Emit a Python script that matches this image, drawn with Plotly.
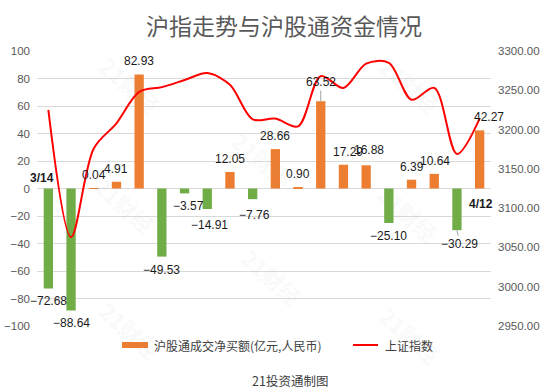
import plotly.graph_objects as go

# ---------------- data ----------------
dates = ["3/14", "3/15", "3/16", "3/17", "3/20", "3/21", "3/22", "3/23", "3/24", "3/27",
         "3/28", "3/29", "3/30", "3/31", "4/5", "4/6", "4/7", "4/10", "4/11", "4/12"]
net_buy = [-72.68, -88.64, 0.04, 4.91, 82.93, -49.53, -3.57, -14.91, 12.05, -7.76,
           28.66, 0.90, 63.52, 17.29, 16.88, -25.10, 6.39, 10.64, -30.29, 42.27]
sse_index = [3225, 3063, 3176, 3208, 3248, 3254, 3263, 3272, 3257, 3213,
             3214, 3204, 3268, 3253, 3284, 3285, 3238, 3253, 3169, 3214]
left_ticks = list(range(-100, 101, 20))
right_ticks = list(range(2950, 3301, 50))

title_text = "沪指走势与沪股通资金情况"
bar_name = "沪股通成交净买额(亿元,人民币)"
line_name = "上证指数"
footer_text = "21投资通制图"

# ---------------- style ----------------
ORANGE = "#ED7D31"
GREEN = "#70AD47"
RED = "#FF0000"
GRID = "#D9D9D9"
TICK = "#595959"
FONT = "Liberation Sans, Arial, Noto Sans CJK SC"
CJK = "Noto Sans CJK SC, Liberation Sans"

W, H = 548, 390
ML, MR, MT, MB = 37, 57, 51, 64
PW, PH = W - ML - MR, H - MT - MB


def px(x):
    return (x - ML) / PW


def py(y):
    return (H - MB - y) / PH


def paper_text(x, y, text, size, color, family, xanchor="center", **kw):
    return dict(x=px(x), y=py(y), xref="paper", yref="paper", text=text, showarrow=False,
                xanchor=xanchor, yanchor="middle", font=dict(size=size, color=color, family=family), **kw)


# per-label tweaks (xshift, yshift) in pixels
label_tweak = {6: (4, 0), 7: (2, 3), 9: (2, 3), 13: (5, 0), 14: (3, 2), 17: (1, 0), 19: (9, 0)}

fig = go.Figure()
fig.add_trace(go.Bar(
    x=dates, y=net_buy, name=bar_name,
    marker=dict(color=[ORANGE if v >= 0 else GREEN for v in net_buy], line=dict(width=0)),
    showlegend=False, hoverinfo="skip",
))
fig.add_trace(go.Scatter(
    x=dates, y=sse_index, name=line_name, yaxis="y2", mode="lines",
    line=dict(color=RED, width=2, shape="spline", smoothing=0.9),
    showlegend=False, hoverinfo="skip",
))

LBL = dict(size=12, color="#1a1a1a", family=FONT)
annotations = []
for i, (d, v) in enumerate(zip(dates, net_buy)):
    txt = ("−" + f"{abs(v):.2f}") if v < 0 else f"{v:.2f}"
    dx, dy = label_tweak.get(i, (0, 0))
    if i == 12:
        annotations.append(dict(x=d, y=v, text=txt, showarrow=True, ax=0, ay=-19,
                                arrowhead=0, arrowwidth=0.8, arrowcolor="#8c8c8c", font=LBL))
        continue
    if i == 18:
        annotations.append(dict(x=d, y=v, text=txt, showarrow=True, ax=3, ay=14,
                                arrowhead=0, arrowwidth=0.8, arrowcolor="#8c8c8c", font=LBL))
        continue
    annotations.append(dict(x=d, y=v, text=txt, showarrow=False, xanchor="center", yanchor="middle",
                            xshift=dx, yshift=(13 if v >= 0 else -13) + (dy if v >= 0 else -dy),
                            font=LBL))

# first/last date labels
annotations.append(paper_text(42, 178, "<b>" + dates[0] + "</b>", 12, "#1a1a1a", FONT))
annotations.append(paper_text(481, 204, "<b>" + dates[-1] + "</b>", 12, "#1a1a1a", FONT))

# watermarks
for wx, wy in [(130, 85), (410, 85), (125, 205), (408, 213), (262, 160), (272, 277), (130, 330), (410, 335)]:
    annotations.append(paper_text(wx, wy, "<b>21财经</b>", 22, "rgba(160,160,160,0.08)", CJK, textangle=42))

# title
annotations.append(paper_text(284, 25, title_text, 23, "#595959", CJK))
# legend (custom)
annotations.append(paper_text(152, 345, bar_name, 12, "#404040", CJK, xanchor="left"))
annotations.append(paper_text(383, 345, line_name, 12, "#404040", CJK, xanchor="left"))
# footer
annotations.append(paper_text(290, 380, footer_text, 12.5, "#404040", CJK))

shapes = [
    dict(type="rect", xref="paper", yref="paper", x0=px(122), x1=px(148), y0=py(348), y1=py(342),
         fillcolor=ORANGE, line=dict(width=0)),
    dict(type="line", xref="paper", yref="paper", x0=px(353), x1=px(378), y0=py(345), y1=py(345),
         line=dict(color=RED, width=2)),
]

fig.update_layout(
    width=W, height=H,
    margin=dict(l=ML, r=MR, t=MT, b=MB, pad=0, autoexpand=False),
    paper_bgcolor="white", plot_bgcolor="white",
    bargap=0.59,
    showlegend=False,
    font=dict(family=FONT, color=TICK),
    xaxis=dict(type="category", range=[-0.5, len(dates) - 0.5], autorange=False,
               showticklabels=False, showgrid=False, zeroline=False,
               showline=False, ticks="", automargin=False),
    yaxis=dict(range=[-100, 100], tickvals=left_ticks, showgrid=True, gridcolor=GRID, gridwidth=1,
               zeroline=True, zerolinecolor=GRID, zerolinewidth=1, showline=False, ticks="",
               tickfont=dict(size=11.5, color=TICK), ticklabelstandoff=6, automargin=False),
    yaxis2=dict(range=[2950, 3300], tickvals=right_ticks, tickformat=".2f", overlaying="y",
                side="right", showgrid=False, zeroline=False, showline=False, ticks="",
                tickfont=dict(size=11.5, color=TICK), ticklabelstandoff=6, automargin=False),
    annotations=annotations,
    shapes=shapes,
)

fig.write_html("out.html", post_script="document.body.style.margin='0';",
               config={"displayModeBar": False})
